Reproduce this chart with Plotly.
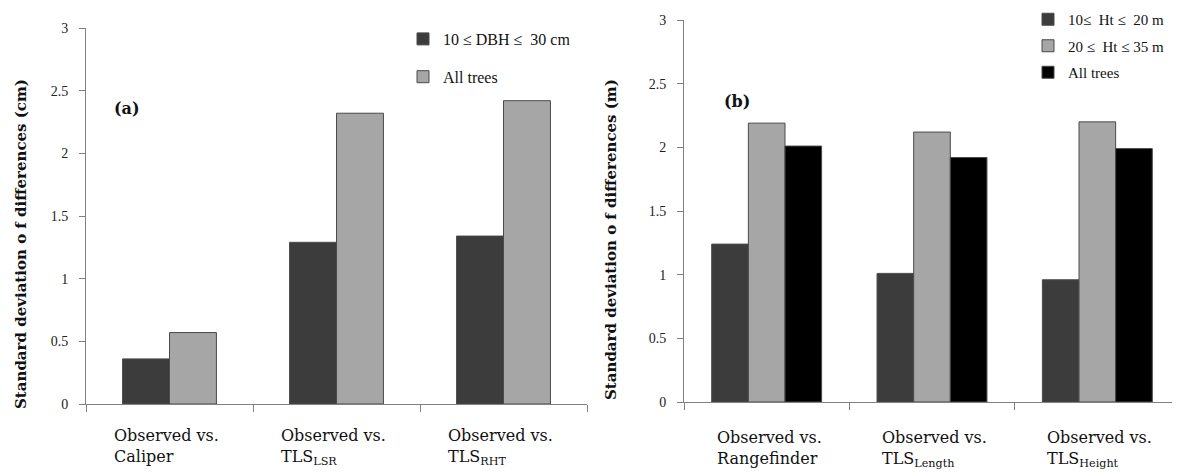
import plotly.graph_objects as go

# ---- data ----
cats_a = ["Caliper", "TLS_LSR", "TLS_RHT"]
labels_a = ["Observed vs.<br>Caliper", "Observed vs.<br>TLS<sub>LSR</sub>", "Observed vs.<br>TLS<sub>RHT</sub>"]
a_small = [0.36, 1.29, 1.34]
a_all = [0.57, 2.32, 2.42]
names_a = ["10 ≤ DBH ≤  30 cm", "All trees"]

cats_b = ["Rangefinder", "TLS_Length", "TLS_Height"]
labels_b = ["Observed vs.<br>Rangefinder", "Observed vs.<br>TLS<sub>Length</sub>", "Observed vs.<br>TLS<sub>Height</sub>"]
b_small = [1.24, 1.01, 0.96]
b_mid = [2.19, 2.12, 2.20]
b_all = [2.01, 1.92, 1.99]
names_b = ["10≤  Ht ≤  20 m", "20 ≤  Ht ≤ 35 m", "All trees"]

ytick_vals = [0, 0.5, 1, 1.5, 2, 2.5, 3]
ytick_text = ["0", "0.5", "1", "1.5", "2", "2.5", "3"]

# ---- style ----
DARK = "#3c3c3c"
LIGHT = "#a6a6a6"
BLACK = "#000000"
SERIF = "Liberation Serif"
WIDE = "DejaVu Serif"
EDGE = dict(color="#4a4a4a", width=1)
W, H = 1172, 464  # page body has an 8px margin

fig = go.Figure()

wa = 0.281
for vals, name, col, off in [(a_small, names_a[0], DARK, -wa), (a_all, names_a[1], LIGHT, 0.0)]:
    fig.add_trace(go.Bar(x=cats_a, y=vals, name=name, marker=dict(color=col, line=EDGE),
                         width=wa, offset=off, xaxis="x", yaxis="y", legend="legend",
                         legendgroup=name))

wb = 0.2216
for vals, name, col, off in [(b_small, names_b[0], DARK, -1.5 * wb), (b_mid, names_b[1], LIGHT, -0.5 * wb),
                             (b_all, names_b[2], BLACK, 0.5 * wb)]:
    fig.add_trace(go.Bar(x=cats_b, y=vals, name=name, marker=dict(color=col, line=EDGE),
                         width=wb, offset=off, xaxis="x2", yaxis="y2", legend="legend2",
                         legendgroup=name + "b"))

axis_common = dict(showline=True, linecolor="#808080", linewidth=1, showgrid=False, zeroline=False)
xa = dict(type="category", tickson="boundaries", ticks="outside", ticklen=7, tickcolor="#808080",
          showticklabels=False, **axis_common)
ya = dict(range=[0, 3], tickvals=ytick_vals, ticktext=ytick_text, ticks="outside", ticklen=6,
          tickcolor="#808080", ticklabelstandoff=8,
          tickfont=dict(family=SERIF, size=14, color="#222"), **axis_common)

fig.update_layout(
    width=W, height=H,
    margin=dict(l=0, r=0, t=0, b=0, autoexpand=False),
    paper_bgcolor="white", plot_bgcolor="white",
    barmode="overlay",
    xaxis=dict(domain=[78 / W, 579 / W], anchor="y", **xa),
    yaxis=dict(domain=[1 - 396 / H, 1 - 20 / H], anchor="x", **ya),
    xaxis2=dict(domain=[676 / W, 1.0], anchor="y2", **xa),
    yaxis2=dict(domain=[1 - 394 / H, 1 - 12 / H], anchor="x2", **ya),
    showlegend=True,
    legend=dict(x=395 / W, y=1 - 14 / H, xanchor="left", yanchor="top", bgcolor="rgba(0,0,0,0)",
                font=dict(family=SERIF, size=16, color="#111"), tracegroupgap=14, itemwidth=30),
    legend2=dict(x=1020 / W, y=1 + 5 / H, xanchor="left", yanchor="top", bgcolor="rgba(0,0,0,0)",
                 font=dict(family=SERIF, size=15, color="#111"), tracegroupgap=4, itemwidth=30),
)

annots = []
for c, lab in zip(cats_a, labels_a):
    annots.append(dict(x=c, y=1 - 416 / H, xref="x", yref="paper", text=lab, showarrow=False, align="left",
                       xanchor="left", xshift=-58, yanchor="top",
                       font=dict(family=WIDE, size=16, color="#111")))
for c, lab in zip(cats_b, labels_b):
    annots.append(dict(x=c, y=1 - 418 / H, xref="x2", yref="paper", text=lab, showarrow=False, align="left",
                       xanchor="left", xshift=-52, yanchor="top",
                       font=dict(family=WIDE, size=16, color="#111")))
annots += [
    dict(x=13 / W, y=1 - 236 / H, xref="paper", yref="paper",
         text="<b>Standard deviation o f differences (cm)</b>", xanchor="center", yanchor="middle",
         textangle=-90, showarrow=False, font=dict(family=WIDE, size=15, color="#111")),
    dict(x=603 / W, y=1 - 232 / H, xref="paper", yref="paper",
         text="<b>Standard deviation o f differences (m)</b>", xanchor="center", yanchor="middle",
         textangle=-90, showarrow=False, font=dict(family=WIDE, size=15, color="#111")),
    dict(x=104 / W, y=1 - 89 / H, xref="paper", yref="paper", text="<b>(a)</b>", showarrow=False,
         xanchor="left", font=dict(family=WIDE, size=16, color="#111")),
    dict(x=714 / W, y=1 - 82 / H, xref="paper", yref="paper", text="<b>(b)</b>", showarrow=False,
         xanchor="left", font=dict(family=WIDE, size=16, color="#111")),
]
fig.update_layout(annotations=annots)

fig.write_html("out.html")
